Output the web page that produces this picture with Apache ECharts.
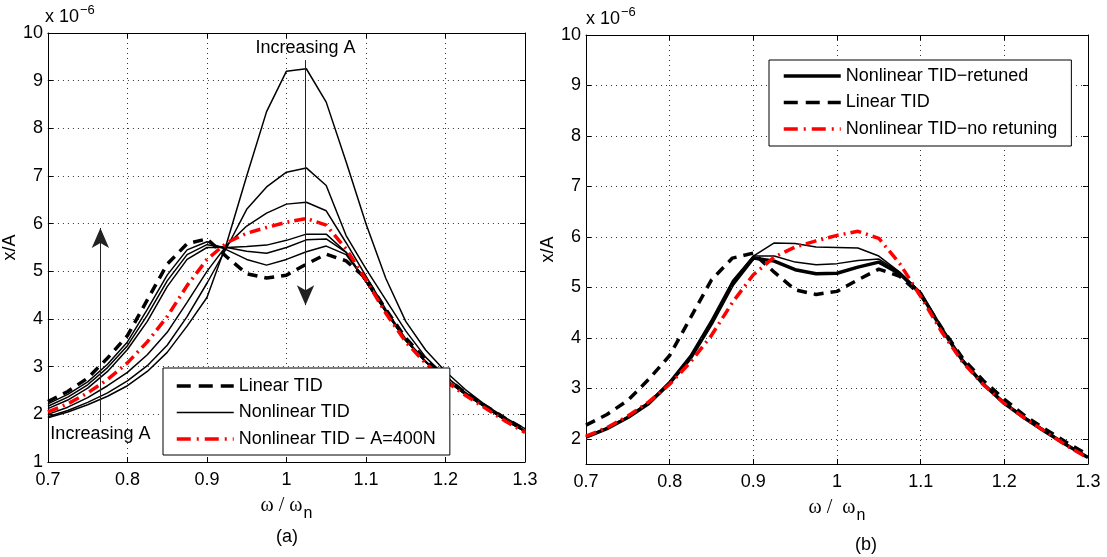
<!DOCTYPE html>
<html>
<head>
<meta charset="utf-8">
<script src="https://cdn.jsdelivr.net/npm/echarts@6/dist/echarts.min.js"></script>
<style>
html,body{margin:0;padding:0;background:#fff;}
#chart{width:1107px;height:557px;}
</style>
</head>
<body>
<div id="chart"></div>
<script>
// ---------- data (x/A values in units of 1e-6) ----------
const freq = [0.7,0.725,0.75,0.775,0.8,0.825,0.85,0.875,0.9,0.925,0.95,0.975,1.0,1.025,1.05,1.075,1.1,1.125,1.15,1.175,1.2,1.225,1.25,1.275,1.3];

const linearTID = [2.27,2.48,2.76,3.18,3.65,4.4,5.15,5.58,5.68,5.3,4.95,4.86,4.92,5.15,5.36,5.22,4.85,4.2,3.6,3.15,2.78,2.45,2.18,1.92,1.68];

// nonlinear TID, panel (a), increasing amplitude A from nl1 to nl6
const nl1 = [1.93,2.05,2.2,2.38,2.6,2.9,3.3,3.85,4.45,5.6,7.0,8.35,9.2,9.25,8.55,7.3,6.0,4.85,3.95,3.35,2.9,2.52,2.2,1.93,1.7];
const nl2 = [1.95,2.08,2.25,2.45,2.7,3.02,3.45,4.05,4.75,5.5,6.3,6.77,7.08,7.17,6.8,5.75,5.05,4.4,3.75,3.2,2.8,2.46,2.18,1.9,1.66];
const nl3 = [2.0,2.15,2.35,2.6,2.88,3.25,3.72,4.35,5.0,5.55,5.95,6.22,6.41,6.45,6.27,5.6,4.9,4.2,3.58,3.12,2.74,2.43,2.16,1.89,1.65];
const nl4 = [2.12,2.3,2.55,2.9,3.36,3.95,4.68,5.25,5.5,5.5,5.52,5.55,5.65,5.78,5.78,5.4,4.78,4.15,3.55,3.1,2.73,2.42,2.15,1.88,1.64];
const nl5 = [2.17,2.36,2.62,2.98,3.44,4.08,4.8,5.35,5.56,5.5,5.42,5.38,5.5,5.66,5.68,5.4,4.78,4.15,3.55,3.1,2.73,2.42,2.15,1.88,1.64];
const nl6 = [2.22,2.42,2.68,3.05,3.52,4.2,4.92,5.45,5.62,5.45,5.25,5.13,5.25,5.41,5.53,5.35,4.78,4.15,3.55,3.1,2.73,2.42,2.15,1.88,1.64];
// nonlinear TID, A = 400 N (no retuning)
const nl400 = [2.05,2.22,2.45,2.73,3.08,3.52,4.05,4.7,5.25,5.6,5.8,5.92,6.03,6.11,5.97,5.47,4.82,4.12,3.52,3.07,2.7,2.4,2.13,1.86,1.62];

// panel (b): retuned nonlinear TID
const retuned  = [2.03,2.2,2.42,2.7,3.1,3.6,4.28,5.05,5.58,5.52,5.35,5.27,5.28,5.4,5.5,5.27,4.88,4.18,3.55,3.08,2.7,2.4,2.13,1.87,1.63];
const retunedA = [2.04,2.21,2.43,2.72,3.12,3.63,4.32,5.1,5.62,5.62,5.5,5.45,5.47,5.53,5.56,5.3,4.9,4.2,3.57,3.1,2.72,2.42,2.15,1.88,1.64];
const retunedB = [2.05,2.22,2.44,2.73,3.14,3.66,4.36,5.13,5.62,5.88,5.87,5.8,5.79,5.78,5.62,5.3,4.9,4.2,3.57,3.1,2.72,2.42,2.15,1.88,1.64];

// axis settings / tick labels
const xRange = [0.7, 1.3], xStep = 0.1;
const yRangeA = [1, 10], yRangeB = [1.5, 10], yStep = 1;
const yTicksB = [2, 3, 4, 5, 6, 7, 8, 9, 10];
const legendA = ['Linear TID', 'Nonlinear TID', 'Nonlinear TID − A=400N'];
const legendB = ['Nonlinear TID−retuned', 'Linear TID', 'Nonlinear TID−no retuning'];
// annotation arrows (data coordinates)
const arrowDown = { x: 1.024, from: 9.43, to: 4.29, text: 'Increasing A' };
const arrowUp = { x: 0.766, from: 1.84, to: 5.91, text: 'Increasing A' };

// ---------- build ----------
const pairs = ys => freq.map((f, i) => [f, ys[i]]);
const FONT = 'Liberation Sans, Arial, sans-serif';
const BLACK = '#000';
const RED = '#ff0000';
const GRIDLINE = { color: '#333', type: [1, 4], width: 1 };
const DASH = [10, 7], DASHDOT = [11, 5, 2, 5];

function xAx(grid, pos, withLabel, nameRich) {
  return {
    type: 'value', gridIndex: grid, position: pos,
    min: xRange[0], max: xRange[1], interval: xStep,
    axisLine: { onZero: false, lineStyle: { color: BLACK, width: 1 } },
    axisTick: { show: true, inside: true, length: 5, lineStyle: { color: BLACK } },
    axisLabel: { show: withLabel, fontSize: 18, color: BLACK, fontFamily: FONT, margin: 9 },
    splitLine: { show: withLabel, lineStyle: GRIDLINE },
    name: withLabel ? nameRich : '',
    nameLocation: 'middle', nameGap: 28,
    nameTextStyle: {
      color: BLACK,
      rich: {
        w: { fontFamily: 'Liberation Serif, serif', fontSize: 20, color: BLACK },
        n: { fontFamily: FONT, fontSize: 16, color: BLACK, padding: [16, 0, 0, 1] }
      }
    }
  };
}
function yAx(grid, pos, withLabel, range, gap, custom) {
  const ax = {
    type: 'value', gridIndex: grid, position: pos,
    min: range[0], max: range[1], interval: yStep,
    axisLine: { onZero: false, lineStyle: { color: BLACK, width: 1 } },
    axisTick: { show: true, inside: true, length: 5, lineStyle: { color: BLACK } },
    axisLabel: { show: withLabel, fontSize: 18, color: BLACK, fontFamily: FONT, margin: 5 },
    splitLine: { show: withLabel && !custom, lineStyle: GRIDLINE },
    name: withLabel ? 'x/A' : '',
    nameLocation: 'middle', nameGap: gap,
    nameTextStyle: { fontSize: 18, color: BLACK, fontFamily: FONT }
  };
  if (custom) {
    ax.axisTick.customValues = custom;
    ax.axisLabel.customValues = custom;
  }
  return ax;
}

const thin = (name, ys, xi, yi) => ({
  type: 'line', name, data: pairs(ys), xAxisIndex: xi, yAxisIndex: yi,
  symbol: 'emptyCircle', showSymbol: false,
  lineStyle: { color: BLACK, width: 1.5, type: 'solid' }, itemStyle: { color: BLACK }, z: 3
});
const dashed = (name, ys, xi, yi) => ({
  type: 'line', name, data: pairs(ys), xAxisIndex: xi, yAxisIndex: yi,
  symbol: 'emptyCircle', showSymbol: false,
  lineStyle: { color: BLACK, width: 3.5, type: DASH }, itemStyle: { color: BLACK }, z: 4
});
const red = (name, ys, xi, yi) => ({
  type: 'line', name, data: pairs(ys), xAxisIndex: xi, yAxisIndex: yi,
  symbol: 'emptyCircle', showSymbol: false,
  lineStyle: { color: RED, width: 3.5, type: DASHDOT }, itemStyle: { color: RED }, z: 5
});

const arrowLine = a => ([
  { coord: [a.x, a.from], label: { formatter: a.text } },
  { coord: [a.x, a.to] }
]);

const series = [
  dashed(legendA[0], linearTID, 0, 0),
  thin(legendA[1], nl1, 0, 0),
  thin(legendA[1], nl2, 0, 0),
  thin(legendA[1], nl3, 0, 0),
  thin(legendA[1], nl4, 0, 0),
  thin(legendA[1], nl5, 0, 0),
  thin(legendA[1], nl6, 0, 0),
  red(legendA[2], nl400, 0, 0),
  {
    type: 'line', name: 'annotations', data: [], xAxisIndex: 0, yAxisIndex: 0,
    markLine: {
      silent: true, animation: false,
      symbol: ['none', 'arrow'], symbolSize: [13, 20],
      lineStyle: { color: '#222', width: 1, type: 'solid' },
      label: { show: true, position: 'start', distance: 3, fontSize: 18, color: BLACK, fontFamily: FONT },
      data: [arrowLine(arrowDown), arrowLine(arrowUp)]
    }
  },
  {
    type: 'line', name: 'grid lines b', data: [], xAxisIndex: 2, yAxisIndex: 2, z: 1,
    markLine: {
      silent: true, animation: false, symbol: ['none', 'none'],
      lineStyle: GRIDLINE, label: { show: false },
      data: yTicksB.slice(0, -1).map(v => ({ yAxis: v }))
    }
  },
  thin('Nonlinear TID−retuned (A1)', retunedA, 2, 2),
  thin('Nonlinear TID−retuned (A2)', retunedB, 2, 2),
  Object.assign(thin(legendB[0], retuned, 2, 2), { lineStyle: { color: BLACK, width: 3.5, type: 'solid' } }),
  dashed(legendB[1], linearTID, 2, 2),
  red(legendB[2], nl400, 2, 2)
];

const legendCommon = {
  orient: 'vertical', itemWidth: 57, itemHeight: 18, itemGap: 8.5,
  backgroundColor: '#fff', borderColor: BLACK, borderWidth: 1, borderRadius: 0,
  itemStyle: { opacity: 0 },
  textStyle: { fontSize: 18, color: BLACK, fontFamily: FONT },
  selectedMode: false, z: 10
};
const legItem = (name, color, width, type) => ({ name, lineStyle: { color, width, type } });

const supStyle = {
  rich: {
    a: { fontSize: 18, color: BLACK, fontFamily: FONT, fontWeight: 'normal' },
    b: { fontSize: 13, color: BLACK, fontFamily: FONT, fontWeight: 'normal', padding: [0, 0, 14, 1] }
  }
};

const option = {
  animation: false,
  backgroundColor: '#fff',
  grid: [
    { left: 45, top: 33, width: 480, height: 429 },
    { left: 586, top: 35, width: 502, height: 429 }
  ],
  xAxis: [
    xAx(0, 'bottom', true, '{w|ω / ω}{n|n}'),
    xAx(0, 'top', false, ''),
    xAx(1, 'bottom', true, '{w|ω /  ω}{n|n}'),
    xAx(1, 'top', false, '')
  ],
  yAxis: [
    yAx(0, 'left', true, yRangeA, 16, null),
    yAx(0, 'right', false, yRangeA, 16, null),
    yAx(1, 'left', true, yRangeB, 11, yTicksB),
    yAx(1, 'right', false, yRangeB, 11, yTicksB)
  ],
  legend: [
    Object.assign({ left: 163, top: 368, padding: [9, 14, 7, 12],
      data: [legItem(legendA[0], BLACK, 3.5, [14, 8]), legItem(legendA[1], BLACK, 1.5, 'solid'), legItem(legendA[2], RED, 3.5, [14, 6, 2, 6])] }, legendCommon),
    Object.assign({ left: 769, top: 60, padding: [7, 14, 8, 13],
      data: [legItem(legendB[0], BLACK, 3.5, 'solid'), legItem(legendB[1], BLACK, 3.5, [14, 8]), legItem(legendB[2], RED, 3.5, [14, 6, 2, 6])] }, legendCommon)
  ],
  title: [
    { text: '{a|x 10}{b|−6}', left: 45, top: 4, padding: 0, textStyle: supStyle },
    { text: '{a|x 10}{b|−6}', left: 586, top: 6, padding: 0, textStyle: supStyle }
  ],
  graphic: [
    { type: 'text', left: 276, top: 528, style: { text: '(a)', fontSize: 18, fill: BLACK, fontFamily: FONT } },
    { type: 'text', left: 855, top: 536, style: { text: '(b)', fontSize: 18, fill: BLACK, fontFamily: FONT } }
  ],
  series
};

const chart = echarts.init(document.getElementById('chart'), null, { renderer: 'canvas' });
chart.setOption(option);
</script>
</body>
</html>
